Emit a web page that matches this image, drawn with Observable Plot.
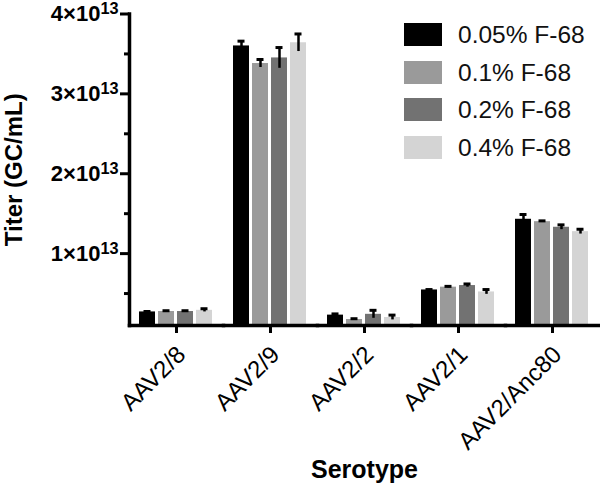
<!DOCTYPE html>
<html><head><meta charset="utf-8">
<script src="https://cdn.jsdelivr.net/npm/d3@7"></script>
<script src="https://cdn.jsdelivr.net/npm/@observablehq/plot@0.6"></script>
<style>
body{margin:0;background:#fff;}
#wrap{position:relative;width:600px;height:486px;font-family:"Liberation Sans",Arial,sans-serif;}
#legend{position:absolute;left:404px;top:23px;}
.item{display:flex;align-items:center;height:23px;margin-bottom:14.5px;}
.sw{width:38px;height:23px;margin-right:16px;}
.lab{font-size:24.5px;color:#111;line-height:23px;}
svg [aria-label="y-axis tick label"]{font-size:22px;font-weight:bold;}
svg [aria-label="y-axis label"]{font-size:24px;font-weight:bold;}
svg [aria-label="fx-axis tick label"]{font-size:24px;}
svg [aria-label="fx-axis label"]{font-size:25px;font-weight:bold;}
</style>
</head><body>
<div id="wrap"><div id="chart"></div><div id="legend"></div></div>
<script>
const serotypes = ["AAV2/8","AAV2/9","AAV2/2","AAV2/1","AAV2/Anc80"];
const concentrations = ["0.05% F-68","0.1% F-68","0.2% F-68","0.4% F-68"];
const colors = ["#000000","#9a9a9a","#727272","#d4d4d4"];
// titer in units of 1e13 GC/mL
const titer005 = [0.27, 3.60, 0.23, 0.545, 1.43];
const titer01  = [0.275, 3.38, 0.175, 0.58, 1.40];
const titer02  = [0.275, 3.45, 0.24, 0.60, 1.33];
const titer04  = [0.29, 3.64, 0.20, 0.52, 1.275];
// error (SD) in units of 1e13
const err005 = [0.005, 0.06, 0.015, 0.005, 0.06];
const err01  = [0.01, 0.05, 0.01, 0.01, 0.01];
const err02  = [0.01, 0.13, 0.05, 0.02, 0.03];
const err04  = [0.02, 0.11, 0.03, 0.03, 0.03];
const yMajorTicks = [1, 2, 3, 4];
const yMinorTicks = [0.5, 1.5, 2.5, 3.5];
const yDomain = [0.1, 4];

const series = [titer005, titer01, titer02, titer04];
const errors = [err005, err01, err02, err04];
const E = 1e13;
const rows = [];
serotypes.forEach((s, i) => concentrations.forEach((c, k) => rows.push({
  serotype: s, conc: c, titer: series[k][i] * E, err: errors[k][i] * E
})));

const plot = Plot.plot({
  width: 600, height: 486,
  marginLeft: 127, marginRight: 0, marginTop: 13.5, marginBottom: 161,
  style: {fontFamily: "'Liberation Sans', Arial, sans-serif", background: "#fff", color: "#000"},
  fx: {domain: serotypes, paddingInner: 0, paddingOuter: 0},
  x: {domain: concentrations, paddingInner: 0.15, paddingOuter: 0.44, axis: null},
  y: {domain: yDomain.map(v => v * E)},
  color: {domain: concentrations, range: colors},
  marks: [
    Plot.barY(rows, {fx: "serotype", x: "conc", y: "titer", fill: "conc", clip: true}),
    Plot.ruleX(rows, {fx: "serotype", x: "conc", y1: d => d.titer - d.err, y2: d => d.titer + d.err, stroke: "#000", strokeWidth: 2.5}),
    Plot.tickY(rows, {fx: "serotype", x: "conc", y: d => d.titer + d.err, stroke: "#000", strokeWidth: 3, insetLeft: 4.5, insetRight: 4.5}),
    Plot.axisY({ticks: yMajorTicks.map(v => v * E), tickSize: 9, tickPadding: 2, strokeWidth: 3,
      tickFormat: d => `${Math.round(d / E)}×10¹³`,
      label: "Titer (GC/mL)", labelAnchor: "center", labelArrow: "none", labelOffset: 125}),
    Plot.axisY({ticks: yMinorTicks.map(v => v * E), tickSize: 5, strokeWidth: 3, tickFormat: () => "", label: null}),
    Plot.frame({anchor: "left", facetAnchor: "left", strokeWidth: 3.5}),
    Plot.frame({anchor: "bottom", strokeWidth: 3.5}),
    Plot.axisFx({anchor: "bottom", tickSize: 8, strokeWidth: 3, tickRotate: -45, tickPadding: 12,
      label: "Serotype", labelAnchor: "center", labelArrow: "none", labelOffset: 152})
  ]
});
document.getElementById("chart").appendChild(plot);

// render the exponent as a proper superscript
plot.querySelectorAll('[aria-label="y-axis tick label"] text').forEach(t => {
  const m = t.textContent.match(/^(\d+×10)¹³$/);
  if (!m) return;
  t.textContent = m[1];
  const sup = document.createElementNS("http://www.w3.org/2000/svg", "tspan");
  sup.setAttribute("dy", "-0.42em");
  sup.setAttribute("font-size", "0.74em");
  sup.textContent = "13";
  t.appendChild(sup);
});
// nudge the rotated serotype labels down-right (rewrite their translate)
plot.querySelectorAll('[aria-label="fx-axis tick label"] text').forEach(t => {
  const tr = t.getAttribute("transform");
  if (!tr) return;
  const m = tr.match(/translate\(\s*([-\d.e]+)[\s,]+([-\d.e]+)\s*\)/);
  if (!m) return;
  const nx = Math.round(+m[1] + 5), ny = Math.round(+m[2] + 5);
  t.setAttribute("transform", tr.replace(m[0], `translate(${nx},${ny})`));
});

const legend = document.getElementById("legend");
concentrations.forEach((c, k) => {
  const item = document.createElement("div"); item.className = "item";
  const sw = document.createElement("div"); sw.className = "sw"; sw.style.background = colors[k];
  const lab = document.createElement("div"); lab.className = "lab"; lab.textContent = c;
  item.appendChild(sw); item.appendChild(lab); legend.appendChild(item);
});
</script>
</body></html>
